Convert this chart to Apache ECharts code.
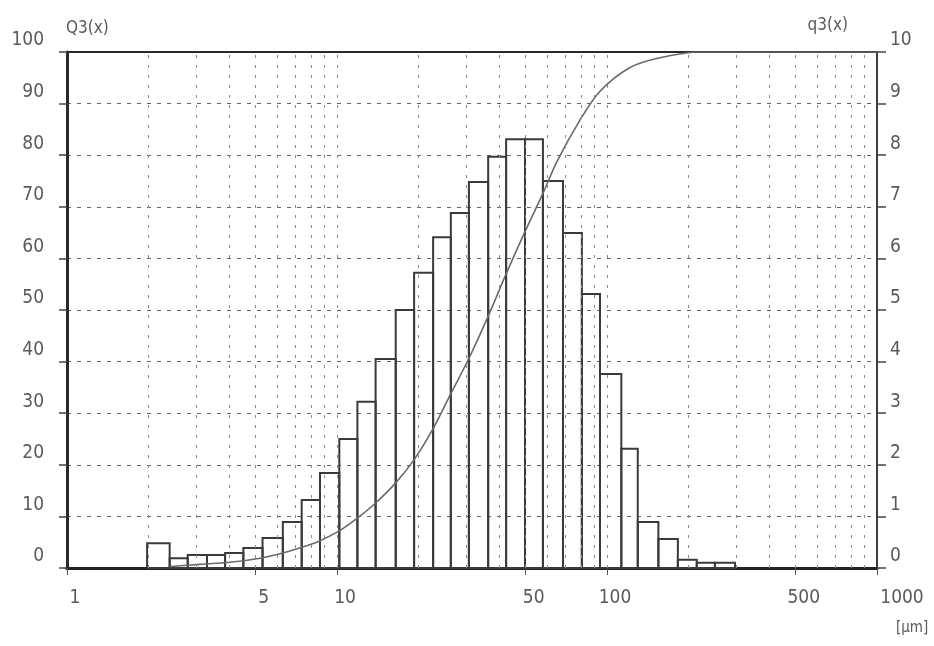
<!DOCTYPE html>
<html>
<head>
<meta charset="utf-8">
<script src="https://cdn.jsdelivr.net/npm/echarts@6/dist/echarts.min.js"></script>
<style>
  html, body { margin: 0; padding: 0; background: #ffffff; }
  #chart { width: 934px; height: 646px; }
</style>
</head>
<body>
<div id="chart"></div>
<script>
// Histogram bin edges (µm) and density q3(x) per bin (right axis)
const binEdges = [1.98, 2.4, 2.8, 3.3, 3.85, 4.5, 5.3, 6.3, 7.4, 8.65, 10.2, 11.9, 13.9, 16.5, 19.3, 22.7, 26.4, 30.8, 36.3, 42.3, 49.7, 57.9, 68.7, 80.7, 94.2, 113, 130, 155, 183, 215, 251, 298];
const q3Density = [0.48, 0.19, 0.25, 0.25, 0.29, 0.39, 0.58, 0.89, 1.32, 1.84, 2.5, 3.22, 4.05, 5.0, 5.72, 6.41, 6.88, 7.48, 7.97, 8.31, 8.31, 7.5, 6.49, 5.31, 3.76, 2.31, 0.89, 0.56, 0.16, 0.1, 0.1];

// Cumulative distribution Q3(x) (left axis)
const cumSizes = [2.41, 3.11, 4.02, 5.32, 6.31, 7.41, 8.65, 10.2, 11.86, 13.9, 16.5, 19.3, 22.7, 26.4, 30.8, 36.3, 42.3, 49.7, 57.9, 65.3, 79.4, 94.2, 121.7, 157, 221, 1000];
const cumQ3 = [0.3, 0.7, 1.1, 2.0, 2.9, 4.0, 5.3, 7.2, 9.6, 12.6, 16.5, 21.0, 27.0, 33.8, 40.6, 48.8, 57.0, 65.2, 72.6, 78.8, 86.8, 92.4, 97.0, 98.9, 100, 100];

// Axis tick labels and grid positions
const xTickValues = [1, 5, 10, 50, 100, 500, 1000];
const xGridValues = [2, 3, 4, 5, 6, 7, 8, 9, 10, 20, 30, 40, 50, 60, 70, 80, 90, 100, 200, 300, 400, 500, 600, 700, 800, 900];
const leftAxisName = 'Q3(x)';
const rightAxisName = 'q3(x)';
const xUnit = '[µm]';

const FONT = "'DejaVu Sans Condensed', 'Liberation Sans Narrow', 'Liberation Sans', sans-serif";
const TXT = '#5a5a5a';
const FS = 19;

const histData = q3Density.map((v, i) => [binEdges[i], binEdges[i + 1], v]);
const cumData = cumSizes.map((x, i) => [x, cumQ3[i]]);

const chart = echarts.init(document.getElementById('chart'), null, { renderer: 'canvas' });
chart.setOption({
  backgroundColor: '#ffffff',
  animation: false,
  grid: {
    left: 67, right: 57, top: 52, bottom: 78,
    show: true, borderColor: '#2a2a2a', borderWidth: 2, backgroundColor: 'transparent'
  },
  xAxis: [
    {
      type: 'log', logBase: 10, min: 1, max: 1000, position: 'bottom',
      axisLine: { show: true, lineStyle: { color: '#2a2a2a', width: 3 } },
      axisTick: { show: true, customValues: xTickValues, length: 7, lineStyle: { color: '#555', width: 1 } },
      axisLabel: {
        customValues: xTickValues,
        margin: 21,
        formatter: v => (Math.abs(v - 1000) < 1e-6 ? '{e|1000}' : '{n|' + Math.round(v) + '}'),
        rich: {
          n: { fontFamily: FONT, fontSize: FS, color: TXT, padding: [0, 0, 0, 16] },
          e: { fontFamily: FONT, fontSize: FS, color: TXT, padding: [0, 0, 0, 50] }
        }
      },
      splitLine: { show: false },
      minorTick: { show: false },
      minorSplitLine: { show: false }
    },
    {
      type: 'log', logBase: 10, min: 1, max: 1000, position: 'top',
      axisLine: { show: true, lineStyle: { color: '#222', width: 3 } },
      axisTick: { show: false },
      axisLabel: { show: false },
      splitLine: { show: false }
    }
  ],
  yAxis: [
    {
      type: 'value', min: 0, max: 100, interval: 10, position: 'left',
      axisLine: { show: true, lineStyle: { color: '#2a2a2a', width: 3 } },
      axisTick: { show: true, length: 8, lineStyle: { color: '#444', width: 1.5 } },
      axisLabel: {
        margin: 23, fontFamily: FONT, fontSize: FS, color: TXT,
        verticalAlign: 'bottom', padding: [0, 0, 2, 0]
      },
      splitLine: { show: true, showMaxLine: false, showMinLine: false, lineStyle: { color: '#666', width: 1, type: [4, 6] } }
    },
    {
      type: 'value', min: 0, max: 10, interval: 1, position: 'right',
      axisLine: { show: true, lineStyle: { color: '#444', width: 1.5 } },
      axisTick: { show: true, length: 9, lineStyle: { color: '#444', width: 1.5 } },
      axisLabel: {
        margin: 13, fontFamily: FONT, fontSize: FS, color: TXT,
        verticalAlign: 'bottom', padding: [0, 0, 2, 0]
      },
      splitLine: { show: false }
    }
  ],
  graphic: [
    { type: 'text', left: 66, top: 20, style: { text: leftAxisName, font: "17px " + FONT, fill: TXT } },
    { type: 'text', right: 86, top: 17, style: { text: rightAxisName, font: "17px " + FONT, fill: TXT } },
    { type: 'text', left: 896, top: 621, style: { text: xUnit, font: "15px " + FONT, fill: TXT } }
  ],
  series: [
    {
      type: 'custom',
      name: 'q3',
      xAxisIndex: 0, yAxisIndex: 1,
      data: histData,
      encode: { x: [0, 1], y: 2 },
      z: 3,
      renderItem: function (params, api) {
        const p0 = api.coord([api.value(0), api.value(2)]);
        const p1 = api.coord([api.value(1), 0]);
        return {
          type: 'rect',
          shape: { x: p0[0], y: p0[1], width: p1[0] - p0[0], height: p1[1] - p0[1] },
          style: { fill: 'rgba(255,255,255,0)', stroke: '#3a3a3a', lineWidth: 2 }
        };
      }
    },
    {
      type: 'line',
      name: 'Q3',
      xAxisIndex: 0, yAxisIndex: 0,
      data: cumData,
      smooth: 0.3,
      showSymbol: false,
      z: 4,
      lineStyle: { color: '#6a6a6a', width: 1.6 },
      markLine: {
        silent: true,
        symbol: ['none', 'none'],
        label: { show: false },
        lineStyle: { color: '#8a8a8a', width: 1, type: [3, 7] },
        data: xGridValues.map(v => ({ xAxis: v }))
      }
    }
  ]
});
</script>
</body>
</html>
